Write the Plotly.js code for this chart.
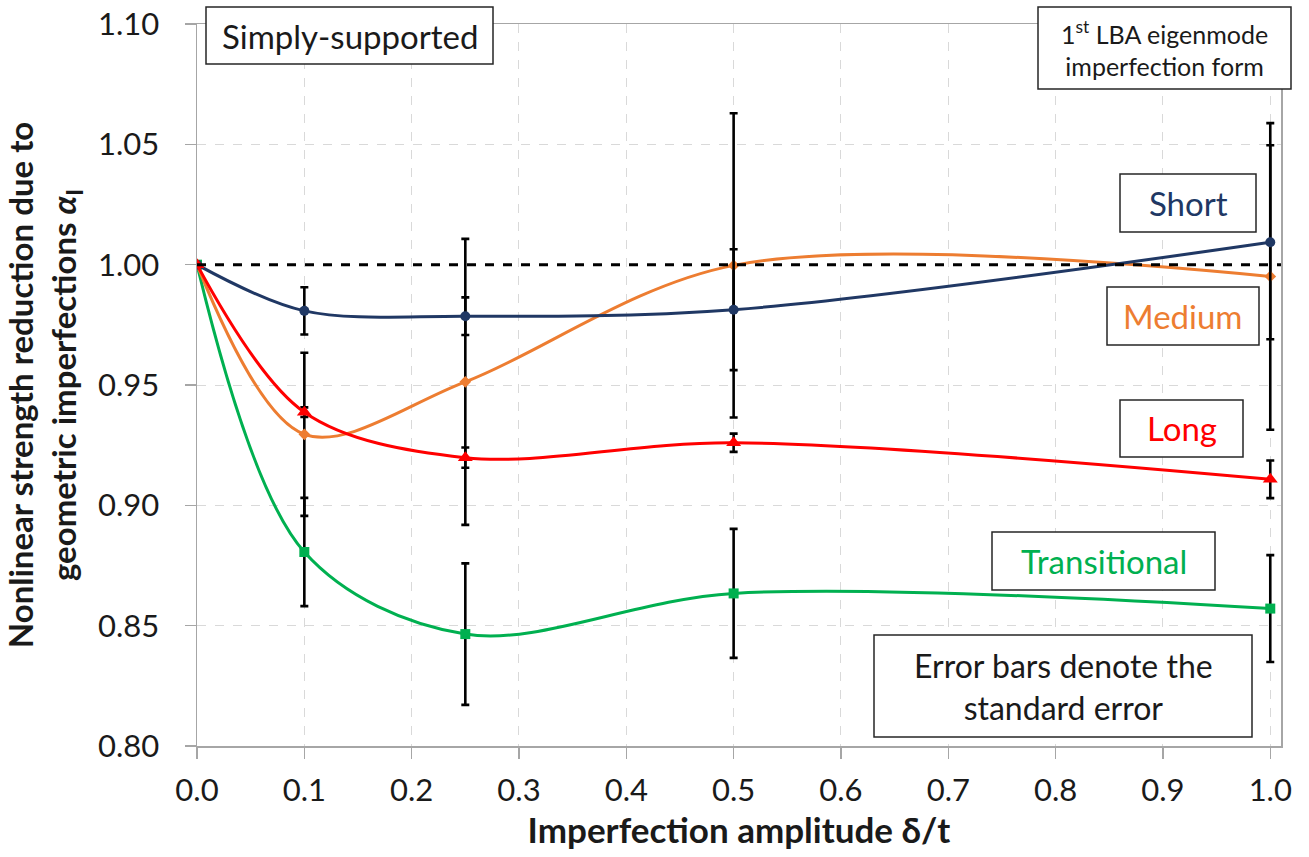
<!DOCTYPE html>
<html>
<head>
<meta charset="utf-8">
<script src="https://cdn.plot.ly/plotly-3.0.1.min.js"></script>
<style>html,body{margin:0;padding:0;background:#fff;}#chart{width:1309px;height:857px;}</style>
</head>
<body>
<div id="chart"></div>
<script>
// ---- data ----
const amplitudes = [0, 0.1, 0.25, 0.5, 1.0];

const shortVals  = [1.000, 0.9808, 0.9786, 0.9813, 1.0093];
const shortErr   = [null, 0.0098, 0.0078, 0.0251, 0.0403];

const mediumVals = [1.000, 0.9295, 0.9513, 0.9997, 0.9951];
const mediumErr  = [null, 0.0339, 0.0594, 0.0632, 0.0637];

const longVals   = [1.000, 0.9387, 0.9198, 0.9260, 0.9108];
const longErr    = [null, 0.0020, 0.0042, 0.0038, 0.0078];

const transVals  = [1.000, 0.8806, 0.8465, 0.8634, 0.8571];
const transErr   = [null, 0.0225, 0.0294, 0.0268, 0.0222];

const referenceLevel = 1.0;

const seriesNames = ['Short', 'Medium', 'Long', 'Transitional'];

// ---- styling ----
const FONT = 'Lato, "Open Sans", sans-serif';
const W = 1309, H = 857;
const M = {l: 197, r: 28, t: 24, b: 111};
const PW = W - M.l - M.r, PH = H - M.t - M.b;
const px = v => (v - M.l) / PW;          // pixel x -> paper
const py = v => (H - M.b - v) / PH;      // pixel y -> paper

function errObj(arr) {
  return {type: 'data', array: arr.map(v => v === null ? NaN : v), visible: true,
          color: '#000000', thickness: 2.6, width: 4};
}
function trace(name, vals, err, color, symbol, size) {
  return {
    x: amplitudes, y: vals, name: name, type: 'scatter', mode: 'lines+markers',
    line: {color: color, width: 3, shape: 'spline', smoothing: 0.95},
    marker: {color: color, symbol: symbol, size: size},
    error_y: errObj(err), hoverinfo: 'x+y+name'
  };
}

const data = [
  trace(seriesNames[3], transVals, transErr, '#00B050', 'square', 10),
  trace(seriesNames[1], mediumVals, mediumErr, '#ED7D31', 'diamond', 9),
  trace(seriesNames[0], shortVals, shortErr, '#203864', 'circle', 10),
  trace(seriesNames[2], longVals, longErr, '#FF0000', 'triangle-up', 13)
];

function box(x0, y0, x1, y1) {
  return {type: 'rect', xref: 'paper', yref: 'paper',
          x0: px(x0), x1: px(x1), y0: py(y1), y1: py(y0),
          line: {color: '#262626', width: 1.5}, fillcolor: '#FFFFFF', layer: 'above'};
}
function label(text, cx, cy, color, size) {
  return {text: text, xref: 'paper', yref: 'paper', x: px(cx), y: py(cy),
          xanchor: 'center', yanchor: 'middle', showarrow: false,
          font: {family: FONT, size: size, color: color}};
}

const layout = {
  width: W, height: H,
  margin: M,
  paper_bgcolor: '#FFFFFF', plot_bgcolor: '#FFFFFF',
  showlegend: false,
  font: {family: FONT, color: '#1a1a1a'},
  xaxis: {
    range: [0, 1.01], dtick: 0.1, tick0: 0, tickformat: '.1f',
    showgrid: true, gridcolor: '#D9D9D9', griddash: 'dash', gridwidth: 1,
    zeroline: false, showline: true, linecolor: '#A6A6A6', linewidth: 1.5, mirror: true,
    ticks: 'outside', ticklen: 11, tickcolor: '#A6A6A6', tickwidth: 1.5,
    ticklabelstandoff: 5,
    tickfont: {family: FONT, size: 31, color: '#1a1a1a'},
    title: {text: '<b>Imperfection amplitude δ/t</b>', font: {family: FONT, size: 35, color: '#1a1a1a'}, standoff: 5}
  },
  yaxis: {
    range: [0.80, 1.10], dtick: 0.05, tick0: 0.8, tickformat: '.2f',
    showgrid: true, gridcolor: '#D9D9D9', griddash: 'dash', gridwidth: 1,
    zeroline: false, showline: true, linecolor: '#A6A6A6', linewidth: 1.5, mirror: true,
    ticks: 'outside', ticklen: 11, tickcolor: '#A6A6A6', tickwidth: 1.5,
    ticklabelstandoff: 19,
    tickfont: {family: FONT, size: 31, color: '#1a1a1a'},
    title: {text: '<b>Nonlinear strength reduction due to<br>geometric imperfections <i>α</i><sub>I</sub></b>',
            font: {family: FONT, size: 33, color: '#1a1a1a'}, standoff: 20}
  },
  shapes: [
    {type: 'line', xref: 'paper', yref: 'y', x0: 0, x1: 1, y0: referenceLevel, y1: referenceLevel,
     line: {color: '#000000', width: 3, dash: 'dash'}, layer: 'above'},
    box(206, 7, 493, 64),
    box(1038, 7, 1291, 89),
    box(1120, 174, 1256, 232),
    box(1107, 287, 1259, 345),
    box(1120, 400, 1243, 457),
    box(992, 532, 1215, 590),
    box(874, 635, 1252, 737)
  ],
  annotations: [
    label('Simply-supported', 349.5, 36, '#1a1a1a', 33),
    label('1<sup>st</sup> LBA eigenmode<br>imperfection form', 1164.5, 48, '#1a1a1a', 25),
    label(seriesNames[0], 1188, 203, '#203864', 33),
    label(seriesNames[1], 1183, 316, '#ED7D31', 33),
    label(seriesNames[2], 1181.5, 428.5, '#FF0000', 33),
    label(seriesNames[3], 1103.5, 561, '#00B050', 33),
    label('Error bars denote the<br>standard error', 1063, 686, '#1a1a1a', 32)
  ]
};

Plotly.newPlot('chart', data, layout, {displayModeBar: false, staticPlot: true});
</script>
</body>
</html>
